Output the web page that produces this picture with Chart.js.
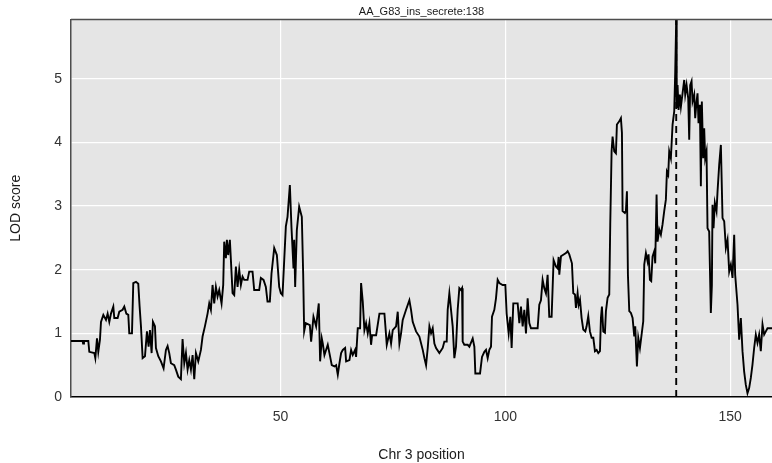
<!DOCTYPE html>
<html>
<head>
<meta charset="utf-8">
<title>LOD scan chr 3</title>
<script src="https://cdn.jsdelivr.net/npm/chart.js@4.4.1/dist/chart.umd.min.js"></script>
<style>
  html, body { margin: 0; padding: 0; background: #fff; }
  #wrap { width: 772px; height: 463px; }
</style>
</head>
<body>
<div id="wrap"><canvas id="lodChart" width="772" height="463"></canvas></div>
<script>
// marker positions (cM) on chr 3
const positions = [
  3.41, 6.0, 6.1, 6.3, 7.26, 7.48, 8.6, 8.82, 9.19, 9.48,
  9.85, 10.08, 10.6, 11.19, 11.56, 11.93, 12.3, 12.82, 13.04, 13.78,
  14.15, 14.89, 15.26, 15.71, 16.15, 16.37, 16.97, 17.26, 17.86, 18.37,
  18.67, 18.97, 19.34, 19.86, 20.3, 20.67, 20.97, 21.34, 21.63, 22.08,
  22.3, 22.82, 23.41, 24.0, 24.52, 24.89, 25.26, 25.63, 26.37, 26.74,
  27.26, 27.85, 28.22, 28.6, 28.97, 29.34, 29.71, 30.08, 30.45, 30.82,
  31.19, 31.71, 32.3, 32.67, 33.19, 33.78, 34.15, 34.52, 34.89, 35.26,
  35.63, 36.0, 36.37, 36.89, 37.26, 37.48, 37.86, 38.08, 38.37, 38.74,
  38.97, 39.34, 39.71, 40.08, 40.45, 40.82, 41.19, 41.56, 41.93, 42.67,
  43.04, 43.78, 44.15, 45.26, 45.63, 46.23, 46.74, 47.11, 47.63, 48.0,
  48.6, 49.19, 49.71, 50.08, 50.45, 51.19, 51.56, 52.08, 52.45, 52.89,
  53.04, 53.26, 53.63, 54.15, 54.74, 55.04, 55.26, 55.63, 56.52, 56.81,
  57.33, 57.92, 58.51, 58.81, 59.18, 59.4, 59.77, 60.51, 60.88, 61.4,
  62.0, 62.37, 62.74, 63.11, 63.48, 63.85, 64.37, 64.59, 65.33, 65.7,
  66.07, 66.59, 66.81, 67.18, 67.7, 67.92, 68.29, 68.66, 69.03, 69.4,
  69.77, 70.14, 70.37, 71.26, 72.0, 73.11, 73.33, 73.63, 74.22, 74.59,
  74.96, 75.7, 76.07, 76.44, 76.81, 77.18, 77.92, 78.66, 79.03, 79.4,
  80.14, 80.88, 81.63, 82.0, 82.37, 82.74, 83.11, 83.48, 83.85, 84.22,
  84.59, 85.33, 86.07, 86.44, 86.96, 87.18, 87.55, 87.92, 88.29, 88.66,
  89.03, 89.4, 89.77, 90.14, 90.37, 90.51, 90.88, 91.63, 92.0, 92.74,
  93.11, 93.33, 94.37, 94.81, 95.33, 95.7, 96.07, 96.44, 96.81, 97.03,
  97.55, 97.92, 98.29, 98.66, 99.4, 100.0, 100.29, 100.74, 101.11, 101.4,
  101.77, 102.74, 103.11, 103.48, 103.85, 104.22, 104.59, 104.96, 105.33, 105.7,
  107.18, 107.55, 107.92, 108.29, 108.66, 109.03, 109.4, 109.77, 110.29, 110.73,
  111.26, 111.63, 111.85, 112.0, 112.37, 113.48, 113.85, 114.22, 114.81, 115.11,
  115.48, 115.7, 116.07, 116.3, 116.6, 116.96, 117.33, 117.78, 118.07, 118.44,
  118.81, 119.19, 119.56, 119.93, 120.3, 120.67, 121.04, 121.26, 121.48, 121.78,
  122.15, 122.37, 122.74, 123.11, 123.33, 123.63, 123.85, 124.22, 124.59, 124.81,
  125.33, 125.7, 125.93, 126.07, 126.59, 126.81, 127.04, 127.26, 127.56, 127.93,
  128.3, 128.67, 128.89, 129.26, 129.56, 129.93, 130.3, 130.67, 130.89, 131.26,
  131.63, 131.85, 132.15, 132.44, 132.74, 133.11, 133.33, 133.63, 133.85, 134.22,
  134.59, 134.96, 135.33, 135.7, 135.93, 136.22, 136.44, 136.81, 137.19, 137.56,
  137.78, 138.0, 138.1, 138.3, 138.52, 138.81, 139.04, 139.41, 139.78, 140.0,
  140.3, 140.67, 140.89, 141.11, 141.41, 141.63, 142.0, 142.22, 142.52, 142.74,
  142.96, 143.26, 143.48, 143.7, 144.0, 144.22, 144.44, 144.74, 144.96, 145.33,
  145.7, 145.93, 146.07, 146.3, 146.59, 146.96, 147.19, 147.56, 147.93, 148.3,
  148.67, 149.04, 149.41, 149.78, 150.15, 150.52, 150.89, 151.11, 151.63, 152.0,
  152.37, 152.74, 153.11, 153.48, 153.85, 154.22, 154.59, 154.96, 155.33, 155.7,
  156.07, 156.44, 156.81, 157.19, 157.56, 157.93, 158.3, 159.3
];

// LOD score at each position
const lod = [
  0.88, 0.88, 0.84, 0.88, 0.88, 0.71, 0.69, 0.61, 0.92, 0.71,
  0.9, 1.18, 1.29, 1.21, 1.31, 1.18, 1.31, 1.42, 1.24, 1.24,
  1.34, 1.37, 1.42, 1.31, 1.29, 1.0, 1.0, 1.79, 1.81, 1.78,
  1.42, 1.11, 0.61, 0.64, 1.03, 0.79, 1.05, 0.69, 1.18, 1.11,
  0.77, 0.64, 0.56, 0.45, 0.74, 0.8, 0.69, 0.53, 0.5, 0.43,
  0.32, 0.28, 0.91, 0.53, 0.69, 0.43, 0.58, 0.43, 0.66, 0.28,
  0.69, 0.56, 0.74, 0.95, 1.11, 1.31, 1.47, 1.37, 1.76, 1.47,
  1.73, 1.58, 1.68, 1.47, 1.76, 2.44, 2.18, 2.47, 2.23, 2.47,
  2.15, 1.63, 1.6, 2.05, 1.73, 2.0, 1.76, 1.89, 1.84, 1.84,
  1.97, 1.97, 1.68, 1.68, 1.87, 1.84, 1.73, 1.5, 1.5, 1.94,
  2.34, 2.23, 1.73, 1.63, 1.6, 2.68, 2.83, 3.33, 2.65, 2.02,
  2.47, 1.73, 2.62, 2.99, 2.83, 1.94, 1.03, 1.16, 1.13, 0.87,
  1.26, 1.11, 1.47, 0.56, 0.92, 0.84, 0.66, 0.82, 0.69, 0.5,
  0.48, 0.5, 0.35, 0.53, 0.69, 0.74, 0.77, 0.56, 0.58, 0.74,
  0.66, 0.74, 0.63, 1.08, 1.08, 1.79, 1.5, 1.05, 1.16, 1.0,
  1.16, 0.82, 0.97, 0.97, 1.31, 1.31, 1.11, 0.82, 1.0, 0.84,
  1.05, 1.11, 1.34, 0.84, 1.0, 1.21, 1.37, 1.52, 1.37, 1.18,
  1.03, 0.95, 0.74, 0.61, 0.5, 0.77, 1.11, 1.0, 1.08, 0.84,
  0.77, 0.69, 0.77, 0.87, 0.87, 1.37, 1.63, 1.37, 1.11, 0.61,
  0.79, 1.37, 1.71, 1.68, 1.71, 0.87, 0.82, 0.82, 0.79, 0.92,
  0.79, 0.37, 0.37, 0.63, 0.71, 0.74, 0.61, 0.74, 0.79, 1.26,
  1.37, 1.55, 1.84, 1.79, 1.76, 1.76, 1.31, 1.0, 1.26, 0.77,
  1.47, 1.47, 1.16, 1.42, 1.11, 1.37, 1.0, 1.55, 1.16, 1.08,
  1.08, 1.45, 1.52, 1.84, 1.71, 1.63, 1.92, 1.26, 1.26, 2.15,
  2.05, 2.02, 2.2, 1.92, 2.21, 2.26, 2.29, 2.24, 2.1, 1.63,
  1.61, 1.4, 1.63, 1.45, 1.53, 1.24, 1.06, 1.03, 1.11, 1.27,
  1.03, 0.93, 0.93, 0.72, 0.74, 0.69, 0.72, 1.24, 1.42, 1.03,
  1.01, 1.35, 1.56, 1.61, 2.71, 3.86, 4.09, 3.86, 3.83, 4.28,
  4.33, 4.38, 4.15, 2.92, 2.89, 2.92, 3.23, 1.92, 1.35, 1.32,
  1.24, 0.95, 1.11, 0.48, 0.93, 0.77, 0.98, 1.19, 2.08, 2.26,
  2.13, 2.24, 1.84, 1.82, 2.21, 2.29, 2.1, 3.18, 2.44, 2.63,
  2.55, 2.71, 2.92, 3.1, 3.54, 3.49, 3.86, 3.75, 4.28, 4.49,
  5.11, 5.93, 4.54, 4.9, 4.51, 4.75, 4.56, 4.77, 4.98, 4.75,
  4.9, 4.69, 4.04, 4.9, 4.96, 4.64, 4.75, 4.38, 4.64, 4.77,
  4.3, 4.59, 3.31, 4.64, 3.75, 4.22, 3.75, 3.86, 2.65, 2.6,
  1.32, 1.76, 3.02, 2.65, 3.05, 2.92, 3.23, 3.65, 3.96, 2.81,
  2.76, 2.34, 2.47, 1.97, 2.08, 1.87, 2.55, 1.92, 1.45, 0.9,
  1.24, 0.72, 0.4, 0.19, 0.06, 0.14, 0.3, 0.51, 0.77, 0.98,
  0.85, 0.98, 0.72, 1.14, 0.98, 1.03, 1.08, 1.08
];

const xTicks = [50, 100, 150];
const yTicks = [0, 1, 2, 3, 4, 5];
const peakPos = 138;
const chartTitle = 'AA_G83_ins_secrete:138';

const FONT = '"Liberation Sans", Arial, Helvetica, sans-serif';
const peakLod = Math.max(...lod);
const scanPoints = positions.map((p, i) => ({ x: p, y: lod[i] }));

// grey panel behind the grid, ggplot style
const panelBackground = {
  id: 'panelBackground',
  beforeDraw(chart) {
    const { ctx, chartArea: a } = chart;
    ctx.save();
    ctx.fillStyle = '#e5e5e5';
    ctx.fillRect(a.left, a.top, a.right - a.left, a.bottom - a.top);
    ctx.restore();
  }
};

// top frame line + title centred over the panel
const panelDecor = {
  id: 'panelDecor',
  afterDraw(chart) {
    const { ctx, chartArea: a } = chart;
    ctx.save();
    ctx.strokeStyle = '#4d4d4d';
    ctx.lineWidth = 1.5;
    ctx.beginPath();
    ctx.moveTo(a.left, a.top);
    ctx.lineTo(a.right, a.top);
    ctx.stroke();
    ctx.fillStyle = '#1a1a1a';
    ctx.font = '11px ' + FONT;
    ctx.textAlign = 'center';
    ctx.textBaseline = 'middle';
    ctx.fillText(chartTitle, (a.left + a.right) / 2, 12);
    ctx.restore();
  }
};

const ctx = document.getElementById('lodChart').getContext('2d');
new Chart(ctx, {
  type: 'line',
  data: {
    datasets: [
      {
        label: 'LOD',
        data: scanPoints,
        borderColor: '#000',
        borderWidth: 1.9,
        pointRadius: 0,
        tension: 0,
        fill: false
      },
      {
        label: 'peak',
        data: [{ x: peakPos, y: 0 }, { x: peakPos, y: peakLod }],
        borderColor: '#000',
        borderWidth: 1.9,
        borderDash: [7, 5],
        pointRadius: 0,
        fill: false
      }
    ]
  },
  options: {
    responsive: false,
    animation: false,
    devicePixelRatio: 1,
    layout: { padding: { top: 19.5, right: 0, bottom: 0, left: 0 } },
    plugins: {
      legend: { display: false },
      tooltip: { enabled: false },
      title: { display: false }
    },
    scales: {
      x: {
        type: 'linear',
        min: positions[0],
        max: positions[positions.length - 1],
        afterBuildTicks: s => { s.ticks = xTicks.map(v => ({ value: v })); },
        afterFit: s => { s.height = 66; },
        ticks: {
          color: '#333',
          font: { family: FONT, size: 14 },
          padding: 12,
          maxRotation: 0,
          autoSkip: false
        },
        grid: { color: '#fff', lineWidth: 1.2, drawTicks: false },
        border: { color: '#000', width: 1.5 },
        title: {
          display: true,
          text: 'Chr 3 position',
          color: '#1a1a1a',
          font: { family: FONT, size: 14 },
          padding: { top: 0, bottom: -1 }
        }
      },
      y: {
        min: 0,
        max: peakLod,
        afterBuildTicks: s => { s.ticks = yTicks.map(v => ({ value: v })); },
        afterFit: s => { s.width = 71; },
        ticks: {
          color: '#333',
          font: { family: FONT, size: 14 },
          padding: 9
        },
        grid: { color: '#fff', lineWidth: 1.2, drawTicks: false },
        border: { color: '#4d4d4d', width: 1.5 },
        title: {
          display: true,
          text: 'LOD score',
          color: '#1a1a1a',
          font: { family: FONT, size: 14 },
          padding: { top: 8, bottom: 0 }
        }
      }
    }
  },
  plugins: [panelBackground, panelDecor]
});
</script>
</body>
</html>
